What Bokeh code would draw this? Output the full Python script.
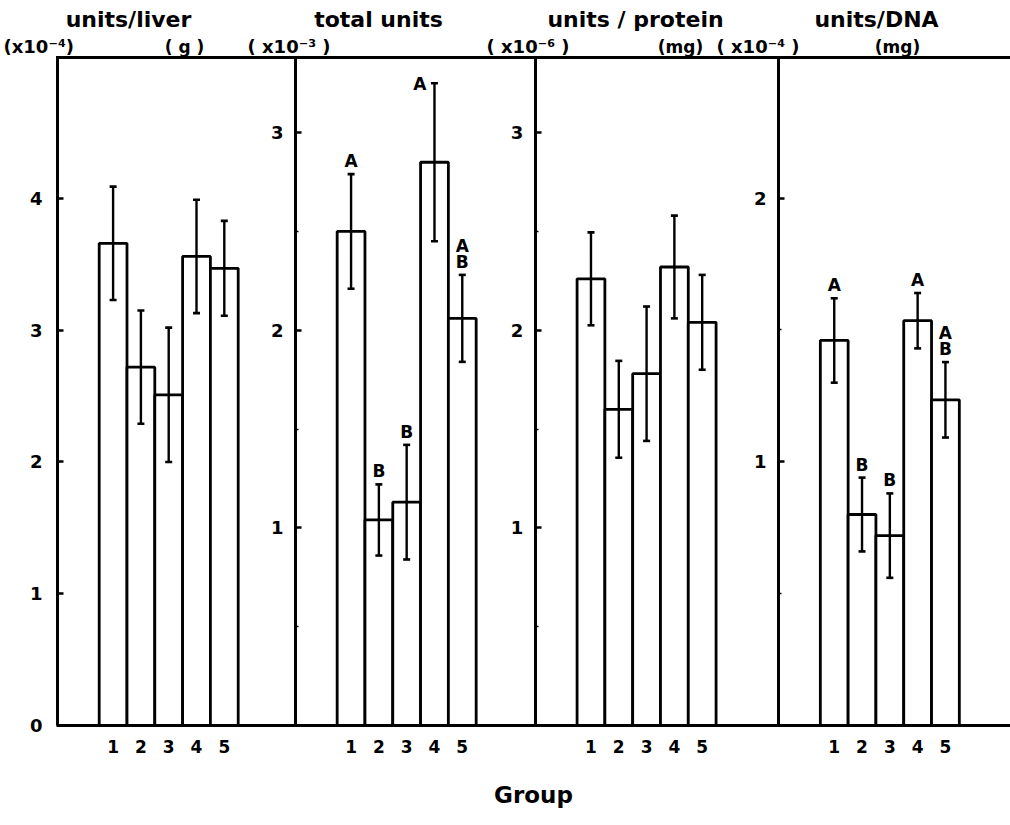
from bokeh.plotting import figure
from bokeh.models import Range1d, LinearAxis, FixedTicker, ColumnDataSource
from bokeh.core.properties import value
from bokeh.embed import file_html
from bokeh.resources import INLINE

# ---------------- data ----------------
groups = ["1", "2", "3", "4", "5"]

liver_mean = [3.66, 2.72, 2.51, 3.56, 3.47]      # x10^-4 units / liver (g)
liver_err = [0.43, 0.43, 0.51, 0.43, 0.36]

total_mean = [2.50, 1.04, 1.13, 2.85, 2.06]      # x10^-3 total units
total_err = [0.29, 0.18, 0.29, 0.40, 0.22]
total_letters = ["A", "B", "B", "A", "A\nB"]

protein_mean = [2.26, 1.60, 1.78, 2.32, 2.04]    # x10^-6 units / protein (mg)
protein_err = [0.235, 0.245, 0.34, 0.26, 0.24]

dna_mean = [1.46, 0.80, 0.72, 1.535, 1.235]      # x10^-4 units / DNA (mg)
dna_err = [0.16, 0.14, 0.16, 0.105, 0.143]
dna_letters = ["A", "B", "B", "A", "A\nB"]

panel_titles = ["units/liver", "total units", "units / protein", "units/DNA"]
scale_labels = ["(x10\u207b\u2074)", "( x10\u207b\u00b3 )", "( x10\u207b\u2076 )", "( x10\u207b\u2074 )"]
unit_labels = ["( g )", "", "(mg)", "(mg)"]
x_title = "Group"

# ---------------- layout constants ----------------
FONT = "DejaVu Sans"
W, H = 1010, 825
AX_LEFT_PX = 57          # panel-1 axis position
BASE_PX = 725            # y = 0 line
TOP_PX = 57              # top border line
PLOT_H = BASE_PX - TOP_PX
BAR_PX = 27.8
panel_axis_x = [0.0, 8.56, 17.19, 25.94]
BAR_START = 1.5

panels = [
    dict(key="default", mean=liver_mean, err=liver_err, letters=None, ymax=5.07,
         ticks=[0, 1, 2, 3, 4], minor=[], standoff=15),
    dict(key="total", mean=total_mean, err=total_err, letters=total_letters, ymax=3.38,
         ticks=[1, 2, 3], minor=[0.5, 1.5, 2.5], standoff=12),
    dict(key="protein", mean=protein_mean, err=protein_err, letters=None, ymax=3.38,
         ticks=[1, 2, 3], minor=[0.5, 1.5, 2.5], standoff=12),
    dict(key="dna", mean=dna_mean, err=dna_err, letters=dna_letters, ymax=2.533,
         ticks=[1, 2], minor=[0.5, 1.5], standoff=12),
]
# where a letter sits relative to its error-bar cap (style only)
letter_side = {"total": ["top", "top", "top", "left", "top"],
               "dna": ["top", "top", "top", "top", "top"]}


def px2x(px):
    return (px - AX_LEFT_PX) / BAR_PX


def yrange_for(ymax):
    per_px = ymax / PLOT_H
    return Range1d(-(H - BASE_PX) * per_px, BASE_PX * per_px)


def py2y(py, ymax=panels[0]["ymax"]):
    return (BASE_PX - py) * ymax / PLOT_H


# the whole canvas is the frame; every axis is placed with fixed_location
p = figure(width=W, height=H, x_range=Range1d(px2x(0), px2x(W)),
           y_range=yrange_for(panels[0]["ymax"]),
           x_axis_type=None, y_axis_type=None,
           output_backend="svg", toolbar_location=None,
           min_border=0, min_border_left=0, min_border_right=0,
           min_border_top=0, min_border_bottom=0,
           outline_line_color=None, background_fill_color="white", border_fill_color="white")
p.xgrid.visible = False
p.ygrid.visible = False

for pn in panels[1:]:
    p.extra_y_ranges[pn["key"]] = yrange_for(pn["ymax"])


def style_yaxis(ax, ticks, minor, standoff):
    ax.ticker = FixedTicker(ticks=ticks, minor_ticks=minor)
    ax.axis_line_width = 3
    ax.axis_line_color = "black"
    ax.major_tick_in = 6
    ax.major_tick_out = 0
    ax.major_tick_line_width = 2.5
    ax.minor_tick_in = 3
    ax.minor_tick_out = 0
    ax.minor_tick_line_width = 1.5
    ax.major_label_text_font = FONT
    ax.major_label_text_font_style = "bold"
    ax.major_label_text_font_size = "18px"
    ax.major_label_text_color = "black"
    ax.major_label_standoff = standoff


all_x = []
for i, pn in enumerate(panels):
    xs = [round(panel_axis_x[i] + BAR_START + k + 0.5, 4) for k in range(len(groups))]
    all_x += xs
    lo = [m - e for m, e in zip(pn["mean"], pn["err"])]
    hi = [m + e for m, e in zip(pn["mean"], pn["err"])]
    src = ColumnDataSource(dict(x=xs, top=pn["mean"], lo=lo, hi=hi))
    yr = pn["key"]
    p.vbar(x="x", top="top", bottom=0, width=1.0, source=src, y_range_name=yr,
           fill_color="white", line_color="black", line_width=2.8)
    p.segment(x0="x", y0="lo", x1="x", y1="hi", source=src, y_range_name=yr,
              line_color="black", line_width=2.4)
    p.scatter(x="x", y="hi", source=src, y_range_name=yr, marker="dash", size=7,
              line_color="black", line_width=2.6)
    p.scatter(x="x", y="lo", source=src, y_range_name=yr, marker="dash", size=7,
              line_color="black", line_width=2.6)

    if pn["letters"] is not None:
        sides = letter_side[pn["key"]]
        top_idx = [k for k in range(5) if sides[k] == "top"]
        left_idx = [k for k in range(5) if sides[k] == "left"]
        if top_idx:
            p.text(x=[xs[k] for k in top_idx], y=[hi[k] for k in top_idx],
                   text=[pn["letters"][k] for k in top_idx], y_range_name=yr,
                   text_font=value(FONT), text_font_style="bold", text_font_size="17px",
                   text_align="center", text_baseline="bottom", text_line_height=0.8,
                   y_offset=-3, text_color="black")
        if left_idx:
            p.text(x=[xs[k] for k in left_idx], y=[hi[k] for k in left_idx],
                   text=[pn["letters"][k] for k in left_idx], y_range_name=yr,
                   text_font=value(FONT), text_font_style="bold", text_font_size="17px",
                   text_align="right", text_baseline="middle",
                   x_offset=-8, y_offset=1, text_color="black")

    ax = LinearAxis(y_range_name=yr, fixed_location=panel_axis_x[i], bounds=(0, pn["ymax"]))
    style_yaxis(ax, pn["ticks"], pn["minor"], pn["standoff"])
    p.add_layout(ax, "left")

# bottom axis (y = 0 line) with group labels
xa = LinearAxis(fixed_location=0, bounds=(px2x(AX_LEFT_PX - 1.5), px2x(W)))
xa.ticker = FixedTicker(ticks=all_x)
xa.major_label_overrides = {x: groups[j % 5] for j, x in enumerate(all_x)}
xa.axis_line_width = 3
xa.axis_line_color = "black"
xa.major_tick_line_color = None
xa.minor_tick_line_color = None
xa.major_label_text_font = FONT
xa.major_label_text_font_style = "bold"
xa.major_label_text_font_size = "17px"
xa.major_label_text_color = "black"
xa.major_label_standoff = 8
xa.axis_label = x_title
xa.axis_label_text_font = FONT
xa.axis_label_text_font_style = "bold"
xa.axis_label_text_font_size = "23px"
xa.axis_label_text_color = "black"
xa.axis_label_standoff = 26
p.add_layout(xa, "below")

# top border line
p.segment(x0=[px2x(AX_LEFT_PX - 1.5)], y0=[panels[0]["ymax"]], x1=[px2x(W)], y1=[panels[0]["ymax"]],
          line_color="black", line_width=3)

# panel headings
title_px = [128, 378, 635, 876]
scale_px = [3, 247, 486, 716]
unit_px = [184, None, 680, 897]
p.text(x=[px2x(v) for v in title_px], y=[py2y(19)] * 4, text=panel_titles,
       text_font=value(FONT), text_font_style="bold", text_font_size="22px",
       text_align="center", text_baseline="middle", text_color="black")
p.text(x=[px2x(v) for v in scale_px], y=[py2y(46)] * 4, text=scale_labels,
       text_font=value(FONT), text_font_style="bold", text_font_size="18px",
       text_align="left", text_baseline="middle", text_color="black")
u_idx = [i for i in range(4) if unit_labels[i]]
p.text(x=[px2x(unit_px[i]) for i in u_idx], y=[py2y(46)] * len(u_idx),
       text=[unit_labels[i] for i in u_idx],
       text_font=value(FONT), text_font_style="bold", text_font_size="17px",
       text_align="center", text_baseline="middle", text_color="black")

open("out.html", "w").write(file_html(p, INLINE))
